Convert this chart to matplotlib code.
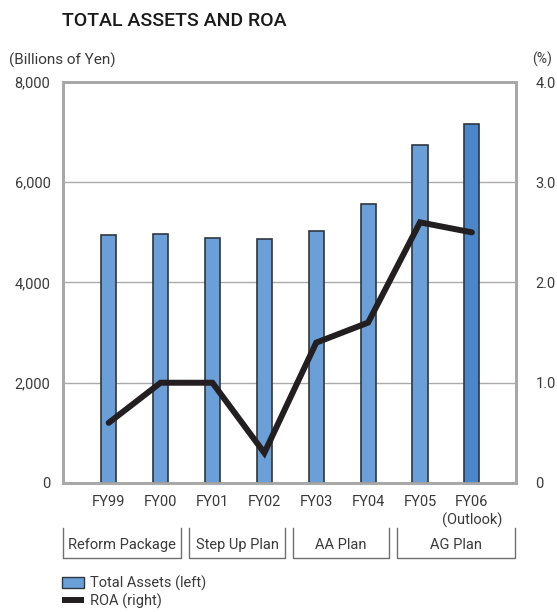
import numpy as np
import matplotlib
matplotlib.use("Agg")
import matplotlib.pyplot as plt
from matplotlib.lines import Line2D
from matplotlib.patches import Patch

plt.rcParams['font.family'] = ['Roboto', 'DejaVu Sans']

# data
years = ['FY99', 'FY00', 'FY01', 'FY02', 'FY03', 'FY04', 'FY05', 'FY06\n(Outlook)']
total_assets = [4940, 4970, 4880, 4860, 5030, 5560, 6740, 7170]   # billions of yen
roa = [0.6, 1.0, 1.0, 0.3, 1.4, 1.6, 2.6, 2.5]                     # %
plans = ['Reform Package', 'Step Up Plan', 'AA Plan', 'AG Plan']
plan_spans = [(0, 1), (2, 3), (4, 5), (6, 7)]

bar_color = '#6a9fd8'
outlook_color = '#4a86c8'
grid_color = '#ababab'
text_color = '#3a3a3a'

fig = plt.figure(figsize=(5.57, 6.12), dpi=100)
ax = fig.add_axes([0.1131, 0.2108, 0.8133, 0.6552])
ax2 = ax.twinx()

x = np.arange(len(years))
colors = [bar_color] * (len(years) - 1) + [outlook_color]
bars = ax.bar(x, total_assets, width=0.29, color=colors, edgecolor='#2e3640',
              linewidth=1.2, zorder=3)
line, = ax2.plot(x, roa, color='#231f20', linewidth=4.3, solid_capstyle='round',
                 solid_joinstyle='miter', zorder=4)

ax.set_xlim(-0.88, 7.85)
ax.set_ylim(0, 8000)
ax2.set_ylim(0, 4)
ax.set_yticks([0, 2000, 4000, 6000, 8000])
ax.set_yticklabels(['0', '2,000', '4,000', '6,000', '8,000'])
ax2.set_yticks([0, 1, 2, 3, 4])
ax2.set_yticklabels(['0', '1.0', '2.0', '3.0', '4.0'])
ax.set_xticks(x)
ax.set_xticklabels(years, linespacing=1.25)

ax.grid(axis='y', color=grid_color, linewidth=1.0, zorder=0)
ax.set_axisbelow(True)
for a in (ax, ax2):
    for s in a.spines.values():
        s.set_color('#a8a8a8')
        s.set_linewidth(2.0)
    a.tick_params(length=0, colors=text_color, labelsize=10.5)
ax.tick_params(axis='y', pad=9)
ax2.tick_params(axis='y', pad=14)
ax.tick_params(axis='x', pad=9)
for lbl in ax2.get_yticklabels():
    lbl.set_horizontalalignment('left')

# plan brackets under the fiscal years
trans = ax.get_xaxis_transform()
for name, (a, b) in zip(plans, plan_spans):
    left = -0.88 if a == 0 else a - 0.45
    right = b + 0.40 if b < 7 else 7.83
    ax.plot([left, left, right, right], [-0.113, -0.187, -0.187, -0.113],
            transform=trans, color='#707070', linewidth=1.0, clip_on=False)
    ax.text((left + right) / 2, -0.155, name, transform=trans, ha='center',
            va='center', fontsize=10.5, color=text_color)

fig.text(0.111, 0.966, 'TOTAL ASSETS AND ROA', fontsize=14, fontweight='medium',
         color='#1a1a1a', va='center')
fig.text(0.016, 0.901, '(Billions of Yen)', fontsize=11, color=text_color, va='center')
fig.text(0.955, 0.903, '(%)', fontsize=10, color=text_color, va='center')

handles = [Patch(facecolor=bar_color, edgecolor='#2e3640', linewidth=1.0),
           Line2D([0], [0], color='#231f20', linewidth=4.3, solid_capstyle='butt')]
fig.legend(handles, ['Total Assets (left)', 'ROA (right)'], loc='upper left',
           bbox_to_anchor=(0.111, 0.06), frameon=False, fontsize=10.5,
           handlelength=1.5, handleheight=0.8, handletextpad=0.4,
           labelspacing=0.2, borderaxespad=0, borderpad=0, labelcolor=text_color)

fig.savefig('out.png', dpi=100)
